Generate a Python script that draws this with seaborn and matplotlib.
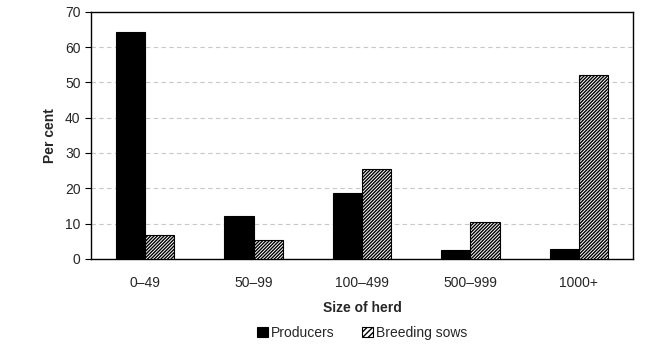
import matplotlib
matplotlib.use("Agg")
import matplotlib.pyplot as plt
import seaborn as sns
import pandas as pd
import numpy as np

categories = ["0–49", "50–99", "100–499", "500–999", "1000+"]
producers = [64.3, 12.2, 18.8, 2.4, 2.8]
breeding_sows = [6.7, 5.2, 25.6, 10.4, 52.2]
series_names = ["Producers", "Breeding sows"]

sns.set_style("white")
plt.rcParams['font.family'] = ['Liberation Sans', 'DejaVu Sans']
plt.rcParams['hatch.linewidth'] = 1.0

df = pd.DataFrame({
    "size": categories * 2,
    "value": producers + breeding_sows,
    "series": [series_names[0]] * len(categories) + [series_names[1]] * len(categories),
})

fig = plt.figure(figsize=(6.54, 3.59), dpi=100)
ax = fig.add_axes([0.139, 0.279, 0.829, 0.688])

sns.barplot(data=df, x="size", y="value", hue="series", order=categories,
            hue_order=series_names, palette=["black", "white"], edgecolor="black",
            linewidth=0.8, width=0.54, saturation=1, ax=ax, legend=True, zorder=3)

HATCH = "//////////"
for p in ax.containers[1]:
    p.set_hatch(HATCH)

ax.set_ylim(0, 70)
ax.set_yticks(np.arange(0, 71, 10))
ax.set_xlim(-0.5, len(categories) - 0.5)
ax.yaxis.grid(True, linestyle=(0, (4, 3)), color="#c8c8c8", linewidth=0.8, zorder=0)
ax.set_axisbelow(True)
for s in ax.spines.values():
    s.set_color("black")
    s.set_linewidth(1.0)

ax.tick_params(axis="x", which="major", length=0, labelsize=10, pad=12)
ax.set_xticks(np.arange(-0.5, len(categories), 1.0), minor=True)
ax.tick_params(axis="x", which="minor", length=5, direction="out", color="black", width=0.8)
ax.tick_params(axis="y", length=4, direction="out", labelsize=10, color="black", width=0.8, left=True)

ax.set_xlabel("Size of herd", fontsize=10, fontweight="bold", labelpad=8)
ax.set_ylabel("Per cent", fontsize=10, fontweight="bold", labelpad=6)

handles, labels = ax.get_legend_handles_labels()
leg = ax.legend(handles, labels, loc="upper center", bbox_to_anchor=(0.5, -0.22), ncol=2,
                frameon=False, fontsize=10, handlelength=0.8, handleheight=0.8,
                handletextpad=0.2, columnspacing=2.0)
for h in leg.legend_handles[1:]:
    h.set_hatch("//////")

fig.savefig("out.png", dpi=100)
